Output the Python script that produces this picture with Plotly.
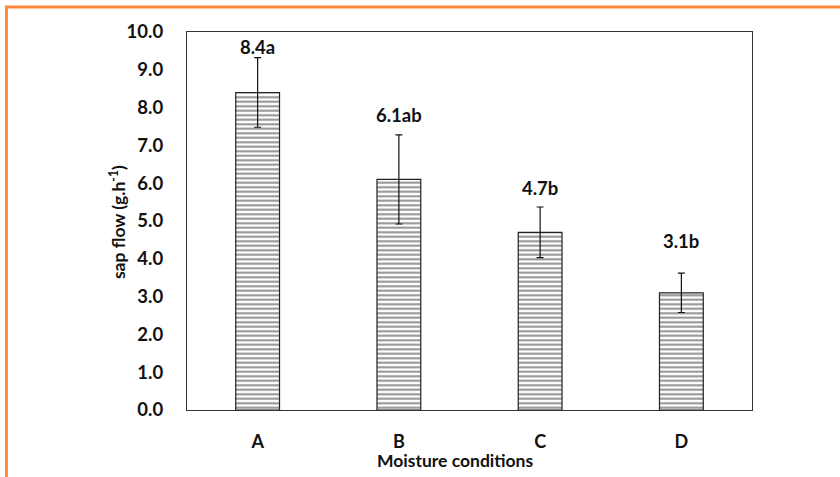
import plotly.graph_objects as go

# Sap flow by moisture condition (mean ± error), with significance letters
conditions = ["A", "B", "C", "D"]
sap_flow = [8.4, 6.1, 4.7, 3.1]
sap_err = [0.92, 1.18, 0.67, 0.52]
labels = ["8.4a", "6.1ab", "4.7b", "3.1b"]
label_y = [9.6, 7.8, 5.87, 4.48]
y_ticks = [0, 1, 2, 3, 4, 5, 6, 7, 8, 9, 10]

FONT = "Lato"
INK = "#111"


def bold(size):
    return dict(family=FONT, size=size, color=INK, weight="bold")


fig = go.Figure()

fig.add_trace(go.Bar(
    x=conditions,
    y=sap_flow,
    width=0.31,
    marker=dict(
        color="white",
        line=dict(color="#222", width=1.2),
        pattern=dict(shape="-", fgcolor="#222", bgcolor="white", size=4.5, solidity=0.45),
    ),
    error_y=dict(type="data", array=sap_err, visible=True, color=INK, thickness=1.2, width=3.5),
    showlegend=False,
))

for c, t, yy in zip(conditions, labels, label_y):
    fig.add_annotation(x=c, y=yy, text=t, showarrow=False, xref="x", yref="y", font=bold(18.5))

# axis titles
fig.add_annotation(x=0.474, y=-0.134, xref="paper", yref="paper", text="Moisture conditions",
                   showarrow=False, yanchor="middle", font=bold(17.5))
fig.add_annotation(x=-0.124, y=0.497, xref="paper", yref="paper", text="sap flow (g.h<sup>-1</sup>)",
                   textangle=-90, showarrow=False, xanchor="center", yanchor="middle",
                   font=bold(17.5))

# orange outer frame
fig.add_shape(type="rect", xref="paper", yref="paper", x0=-0.3195, x1=1.3, y0=-0.3, y1=1.0661,
              line=dict(color="#FF8A3D", width=3), fillcolor="rgba(0,0,0,0)", layer="above")

fig.update_layout(
    width=840, height=477,
    margin=dict(l=187, r=88, t=32, b=67),
    paper_bgcolor="white", plot_bgcolor="white",
    font=dict(family=FONT, size=18, color=INK),
    xaxis=dict(showline=True, linecolor="#333", linewidth=1.3, mirror=True, ticks="",
               showgrid=False, tickfont=bold(18), ticklabelstandoff=15),
    yaxis=dict(range=[0, 10], tickvals=y_ticks, tickformat=".1f", showline=True,
               linecolor="#333", linewidth=1.3, mirror=True, ticks="", showgrid=False,
               zeroline=False, tickfont=bold(18.5), ticklabelstandoff=19),
)

fig.write_html("out.html")
